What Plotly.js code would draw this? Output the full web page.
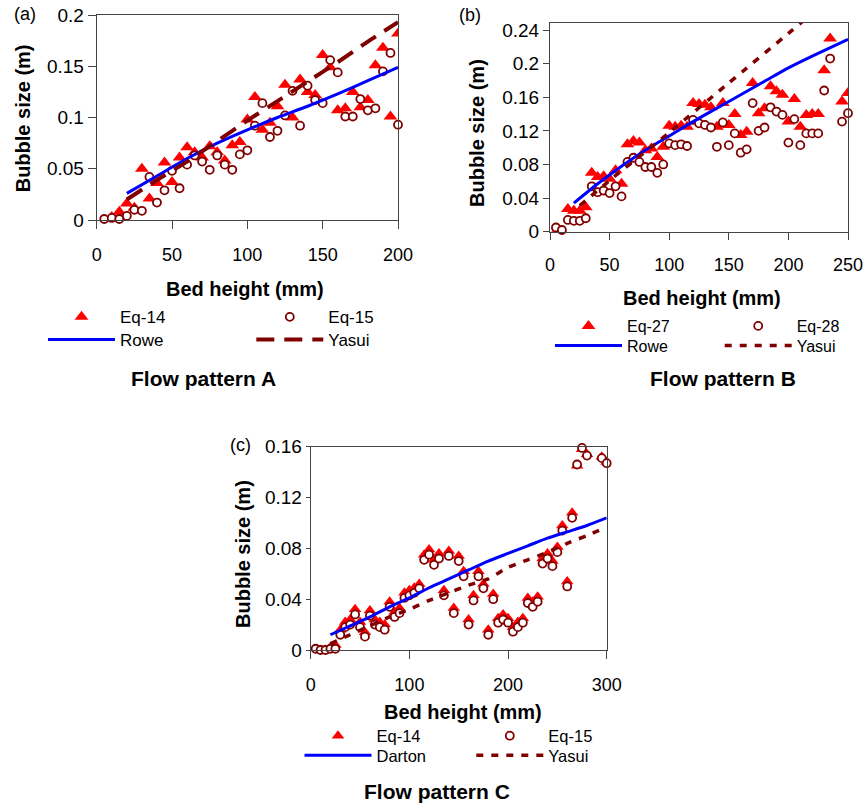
<!DOCTYPE html>
<html>
<head>
<meta charset="utf-8">
<script src="https://cdn.plot.ly/plotly-3.0.1.min.js"></script>
<style>html,body{margin:0;padding:0;background:#fff;}#chart{width:864px;height:806px;}</style>
</head>
<body>
<div id="chart"></div>
<script>
// ---------- Panel A (Flow pattern A) ----------
const aX = [5,10,15,20,25,30,35,40,45,50,55,60,65,70,75,80,85,90,95,100,105,110,115,120,125,130,135,140,145,150,155,160,165,170,175,180,185,190,195,200];
const aEq14 = [0.000,0.003,0.008,0.016,0.012,0.050,0.021,0.036,0.056,0.037,0.061,0.071,0.066,0.061,0.072,0.066,0.058,0.073,0.076,0.098,0.120,0.088,0.095,0.111,0.132,0.100,0.137,0.125,0.122,0.161,0.149,0.107,0.109,0.125,0.110,0.117,0.151,0.168,0.101,0.182];
const aEq15 = [0.001,0.002,0.001,0.004,0.010,0.009,0.042,0.017,0.029,0.048,0.031,0.054,0.063,0.057,0.049,0.063,0.054,0.049,0.064,0.068,0.092,0.114,0.081,0.087,0.102,0.126,0.092,0.131,0.117,0.114,0.156,0.144,0.101,0.101,0.118,0.107,0.109,0.145,0.163,0.093];
const aRoweX = [20,40,60,80,100,120,140,160,180,200];
const aRoweY = [0.026,0.043,0.060,0.075,0.088,0.100,0.111,0.123,0.136,0.149];
const aYasuiX = [20,40,60,80,100,120,140,160,180,200];
const aYasuiY = [0.020,0.039,0.057,0.077,0.097,0.116,0.135,0.154,0.174,0.193];

// ---------- Panel B (Flow pattern B) ----------
const bX = [5,10,15,20,25,30,35,40,45,50,55,60,65,70,75,80,85,90,95,100,105,110,115,120,125,130,135,140,145,150,155,160,165,170,175,180,185,190,195,200,205,210,215,220,225,230,235,245,250];
const bEq27 = [0.000,0.000,0.027,0.025,0.025,0.029,0.070,0.065,0.066,0.063,0.073,0.057,0.104,0.108,0.106,0.097,0.099,0.089,0.101,0.126,0.125,0.126,0.125,0.153,0.152,0.151,0.148,0.125,0.153,0.127,0.140,0.115,0.119,0.177,0.141,0.147,0.173,0.167,0.163,0.131,0.158,0.125,0.139,0.140,0.140,0.192,0.230,0.155,0.165];
const bEq28 = [0.005,0.002,0.014,0.013,0.013,0.016,0.054,0.047,0.049,0.046,0.054,0.042,0.083,0.088,0.083,0.077,0.077,0.070,0.080,0.105,0.103,0.104,0.102,0.133,0.129,0.127,0.124,0.101,0.130,0.103,0.117,0.094,0.098,0.153,0.120,0.124,0.148,0.143,0.139,0.106,0.134,0.103,0.117,0.117,0.117,0.168,0.206,0.131,0.141];
const bRoweX = [20,40,60,80,100,120,140,160,180,200,220,250];
const bRoweY = [0.034,0.057,0.078,0.097,0.114,0.131,0.147,0.163,0.179,0.195,0.209,0.229];
const bYasuiX = [25,50,100,150,200,215];
const bYasuiY = [0.031,0.061,0.118,0.177,0.236,0.254];

// ---------- Panel C (Flow pattern C) ----------
const cX = [5,10,15,20,25,30,35,40,45,50,55,60,65,70,75,80,85,90,95,100,105,110,115,120,125,130,135,140,145,150,155,160,165,170,175,180,185,190,195,200,205,210,215,220,225,230,235,240,245,250,255,260,265,270,275,280,295,300];
const cEq14 = [0.000,0.000,0.000,0.002,0.004,0.016,0.022,0.024,0.032,0.022,0.014,0.031,0.024,0.022,0.020,0.038,0.030,0.033,0.045,0.047,0.049,0.052,0.075,0.079,0.071,0.076,0.047,0.078,0.033,0.074,0.062,0.024,0.043,0.062,0.052,0.016,0.044,0.025,0.028,0.025,0.018,0.022,0.025,0.041,0.038,0.042,0.072,0.076,0.070,0.081,0.098,0.054,0.108,0.145,0.158,0.154,0.152,0.148];
const cEq15 = [0.001,0.000,0.000,0.001,0.001,0.012,0.018,0.020,0.028,0.018,0.0105,0.027,0.020,0.018,0.016,0.034,0.026,0.029,0.041,0.043,0.045,0.0485,0.071,0.075,0.067,0.072,0.043,0.074,0.029,0.070,0.058,0.020,0.039,0.058,0.0485,0.012,0.040,0.0215,0.024,0.0215,0.0144,0.018,0.0215,0.037,0.034,0.038,0.068,0.072,0.066,0.077,0.094,0.050,0.104,0.146,0.159,0.153,0.151,0.147];
const cDartonX = [20,40,60,80,100,120,140,160,180,200,220,240,260,280,300];
const cDartonY = [0.012,0.019,0.026,0.034,0.041,0.049,0.056,0.063,0.070,0.076,0.082,0.088,0.093,0.098,0.104];
const cYasuiX = [20,40,60,80,100,120,140,160,180,200,220,240,260,280,295];
const cYasuiY = [0.005,0.012,0.019,0.026,0.032,0.039,0.045,0.051,0.056,0.065,0.071,0.077,0.084,0.090,0.095];

// ---------- styling / layout helpers ----------
const W = 864, H = 806;
const FONT = 'Liberation Sans, Arial, Helvetica, sans-serif';
const RED = '#FF0000', DARK = '#800000', BLUE = '#0000FF';
const px = v => v / W;
const py = v => 1 - v / H;

function tri(x, y, xa, ya, name, leg, size) {
  return {x: x, y: y, xaxis: xa, yaxis: ya, name: name, legend: leg, type: 'scatter', mode: 'markers',
    marker: {symbol: 'triangle-up', size: size, color: RED, line: {width: 0}}, hoverinfo: 'skip'};
}
function circ(x, y, xa, ya, name, leg, size) {
  return {x: x, y: y, xaxis: xa, yaxis: ya, name: name, legend: leg, type: 'scatter', mode: 'markers',
    cliponaxis: false,
    marker: {symbol: 'circle', size: size, color: '#FFFFFF', line: {width: 1.8, color: DARK}}, hoverinfo: 'skip'};
}
function ln(x, y, xa, ya, name, leg, color, width, dash) {
  return {x: x, y: y, xaxis: xa, yaxis: ya, name: name, legend: leg, type: 'scatter', mode: 'lines',
    line: {color: color, width: width, dash: dash, shape: 'spline', smoothing: 0.6}, hoverinfo: 'skip'};
}

const data = [
  tri(aX, aEq14, 'x', 'y', 'Eq-14', 'legend', 12),
  circ(aX, aEq15, 'x', 'y', 'Eq-15', 'legend2', 8),
  ln(aRoweX, aRoweY, 'x', 'y', 'Rowe', 'legend3', BLUE, 3, 'solid'),
  ln(aYasuiX, aYasuiY, 'x', 'y', 'Yasui', 'legend4', DARK, 4, '18px,10px'),

  tri(bX, bEq27, 'x2', 'y2', 'Eq-27', 'legend5', 12),
  circ(bX, bEq28, 'x2', 'y2', 'Eq-28', 'legend6', 8),
  ln(bRoweX, bRoweY, 'x2', 'y2', 'Rowe', 'legend7', BLUE, 3, 'solid'),
  ln(bYasuiX, bYasuiY, 'x2', 'y2', 'Yasui', 'legend8', DARK, 3.5, '7px,8px'),

  tri(cX, cEq14, 'x3', 'y3', 'Eq-14', 'legend9', 11),
  circ(cX, cEq15, 'x3', 'y3', 'Eq-15', 'legend10', 8),
  ln(cDartonX, cDartonY, 'x3', 'y3', 'Darton', 'legend11', BLUE, 3, 'solid'),
  ln(cYasuiX, cYasuiY, 'x3', 'y3', 'Yasui', 'legend12', DARK, 3.5, '7px,8px')
];

function xax(d0, d1, range, dtick, anchor, tl) {
  return {domain: [px(d0), px(d1)], range: range, dtick: dtick, tick0: 0, anchor: anchor,
    showline: true, linecolor: '#444', linewidth: 1, mirror: true, ticks: 'outside', ticklen: tl,
    tickcolor: '#444', tickwidth: 1, showgrid: false, zeroline: false, fixedrange: true,
    ticklabelstandoff: 10, tickfont: {family: FONT, size: 18, color: '#000'}};
}
function yax(b, t, range, dtick, anchor, tl) {
  return {domain: [py(b), py(t)], range: range, dtick: dtick, tick0: 0, anchor: anchor,
    showline: true, linecolor: '#444', linewidth: 1, mirror: true, ticks: 'outside', ticklen: tl,
    tickcolor: '#444', tickwidth: 1, showgrid: false, zeroline: false, fixedrange: true,
    tickfont: {family: FONT, size: 19, color: '#000'}};
}
function leg(xp, yp, fs) {
  return {x: px(xp), y: py(yp), xanchor: 'left', yanchor: 'middle', orientation: 'v',
    bgcolor: 'rgba(0,0,0,0)', borderwidth: 0, itemwidth: 67, itemclick: false, itemdoubleclick: false,
    font: {family: FONT, size: fs || 17, color: '#000'}};
}
function ann(text, x, y, size, angle) {
  return {text: text, x: px(x), y: py(y), xref: 'paper', yref: 'paper', showarrow: false,
    xanchor: 'center', yanchor: 'middle', textangle: angle || 0,
    font: {family: FONT, size: size, color: '#000'}};
}

const layout = {
  width: W, height: H, margin: {l: 0, r: 0, t: 0, b: 0},
  paper_bgcolor: '#FFFFFF', plot_bgcolor: '#FFFFFF', showlegend: true,
  xaxis: xax(96.7, 398, [0, 200], 50, 'y', 8),
  yaxis: yax(220, 15, [0, 0.2], 0.05, 'x', 8),
  xaxis2: xax(550, 848, [0, 250], 50, 'y2', 7),
  yaxis2: yax(231.7, 22.7, [0, 0.2487], 0.04, 'x2', 6),
  xaxis3: xax(310.7, 606.7, [0, 300], 100, 'y3', 8),
  yaxis3: yax(650, 446.7, [0, 0.16], 0.04, 'x3', 4),
  legend: leg(43, 317.3), legend2: leg(251.3, 317.3), legend3: leg(43, 340), legend4: leg(251.3, 340),
  legend5: leg(550, 326, 16), legend6: leg(719.7, 326, 16), legend7: leg(550, 345.5, 16), legend8: leg(719.7, 345.5, 16),
  legend9: leg(299.5, 736, 16.5), legend10: leg(471.3, 736, 16.5), legend11: leg(299.5, 755.5, 16.5), legend12: leg(471.3, 755.5, 16.5),
  annotations: [
    ann('(a)', 25, 14, 18), ann('(b)', 470, 15, 18), ann('(c)', 240, 445, 18),
    ann('<b>Bubble size (m)</b>', 23, 118.3, 20, -90),
    ann('<b>Bubble size (m)</b>', 477, 133, 20, -90),
    ann('<b>Bubble size (m)</b>', 243, 554, 20, -90),
    ann('<b>Bed height (mm)</b>', 245, 289, 20),
    ann('<b>Bed height (mm)</b>', 701.5, 297.5, 20),
    ann('<b>Bed height (mm)</b>', 462.5, 712, 20),
    ann('<b>Flow pattern A</b>', 203.3, 378.3, 21),
    ann('<b>Flow pattern B</b>', 722.5, 378.3, 21),
    ann('<b>Flow pattern C</b>', 436.7, 791.7, 21)
  ]
};

Plotly.newPlot('chart', data, layout, {displayModeBar: false, staticPlot: true});
</script>
</body>
</html>
